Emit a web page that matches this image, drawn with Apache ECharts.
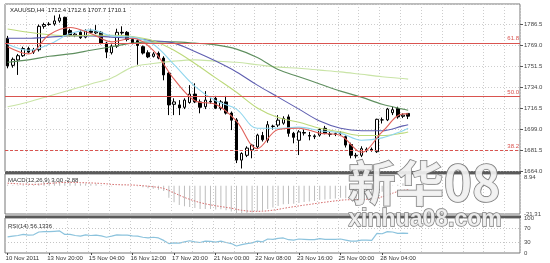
<!DOCTYPE html>
<html><head><meta charset="utf-8">
<script src="https://cdn.jsdelivr.net/npm/echarts@6/dist/echarts.min.js"></script>
<style>html,body{margin:0;padding:0;background:#fff}#c{width:550px;height:263px}</style>
</head><body><div id="c"></div>
<script>
const times = ['10 Nov 16:00','10 Nov 20:00','11 Nov 00:00','11 Nov 04:00','11 Nov 08:00','11 Nov 12:00','11 Nov 16:00','11 Nov 20:00',
'13 Nov 20:00','14 Nov 00:00','14 Nov 04:00','14 Nov 08:00','14 Nov 12:00','14 Nov 16:00','14 Nov 20:00','15 Nov 00:00',
'15 Nov 04:00','15 Nov 08:00','15 Nov 12:00','15 Nov 16:00','15 Nov 20:00','16 Nov 00:00','16 Nov 04:00','16 Nov 08:00',
'16 Nov 12:00','16 Nov 16:00','16 Nov 20:00','17 Nov 00:00','17 Nov 04:00','17 Nov 08:00','17 Nov 12:00','17 Nov 16:00',
'17 Nov 20:00','18 Nov 00:00','18 Nov 04:00','18 Nov 08:00','18 Nov 12:00','18 Nov 16:00','18 Nov 20:00','20 Nov 20:00',
'21 Nov 00:00','21 Nov 04:00','21 Nov 08:00','21 Nov 12:00','21 Nov 16:00','21 Nov 20:00','22 Nov 00:00','22 Nov 04:00',
'22 Nov 08:00','22 Nov 12:00','22 Nov 16:00','22 Nov 20:00','23 Nov 00:00','23 Nov 04:00','23 Nov 08:00','23 Nov 12:00',
'23 Nov 16:00','23 Nov 20:00','24 Nov 00:00','24 Nov 04:00','24 Nov 08:00','24 Nov 12:00','24 Nov 16:00','24 Nov 20:00',
'25 Nov 00:00','25 Nov 04:00','25 Nov 08:00','25 Nov 12:00','25 Nov 16:00','25 Nov 20:00','27 Nov 20:00','28 Nov 00:00',
'28 Nov 04:00','28 Nov 08:00','28 Nov 12:00','28 Nov 16:00','28 Nov 20:00','29 Nov 00:00'];
const openP = [1775,1752.5,1757,1760.5,1766.5,1763.5,1765.5,1785,1786.5,1787,
1789.5,1792.5,1781.5,1777.5,1780,1776,1781,1779.5,1780,1771,
1763,1768.5,1780,1780,1774,1773,1768,1763,1760,1762.5,
1758.5,1746,1720,1719.5,1717.5,1721.5,1728.5,1722,1718,1722.5,
1725,1716.7,1722,1712.7,1707,1673.5,1677.5,1682,1684.5,1694,
1690,1701.5,1702.7,1704.3,1709.5,1695.8,1690,1696.5,1694,1693,
1694.3,1700,1695,1695,1695.5,1693,1686.5,1677,1677.5,1682,
1682.5,1680.5,1707,1707,1713,1716.5,1710,1712.4];
const highP = [1777,1759,1762,1768,1768,1767,1786.5,1788,1788.5,1794,
1795,1793,1783,1780,1782,1782.5,1783,1786,1781,1772,
1770,1783,1785,1781,1775,1774,1769,1765,1763.5,1764,
1760,1747,1725,1723.5,1725,1736,1737.5,1724,1731,1725,
1727,1723.5,1727,1714,1708.5,1680,1685,1687,1695.5,1697,
1706,1703,1711,1710,1711.5,1697,1698.5,1699,1697,1695,
1700,1702,1697,1696.5,1697.5,1694,1688,1679.5,1685,1684,
1684,1708,1709,1717,1718,1718,1712.5,1712.6];
const lowP = [1750,1750.5,1744.5,1759.5,1762.5,1762,1764,1783,1785.5,1785.5,
1788,1776.5,1776.5,1776,1774.5,1775,1779,1778.5,1770,1758.5,
1761.5,1767,1778,1772.5,1770,1753,1761.5,1758.5,1759,1757.5,
1740,1711,1711,1711,1716,1720.5,1721,1712.5,1716,1720.5,
1716,1715,1711.5,1698.5,1671,1666.5,1676,1675,1683,1689,
1688,1699,1701,1703,1693,1687.5,1677.7,1694,1690,1691,
1693,1695,1693,1693.5,1693.5,1684,1675,1675,1676,1680,
1680.5,1679.5,1704,1706,1711,1708,1708.5,1707.7];
const closeP = [1752,1757.5,1760.5,1766.5,1763.5,1765.5,1785,1786.5,1786.8,1789.5,
1792,1777.5,1777.5,1778.5,1775.5,1781.5,1780,1780.5,1771,1763.5,
1768.5,1780,1779.5,1774,1771,1769,1762.7,1759.5,1762,1758.5,
1744.5,1719.5,1722,1717,1723.5,1728.5,1722,1717.5,1723.5,1722,
1716.7,1722,1712.7,1706.8,1673.5,1679,1683.5,1686,1694.3,1690.5,
1703,1701.8,1706.8,1708.2,1695.8,1692.5,1697,1696,1693.5,1693.7,
1699,1695.8,1695.2,1695.5,1696,1686,1677.5,1677.5,1683,1682.5,
1681.5,1707.5,1707,1716,1715.5,1709.5,1711,1710.1];

// moving-average lines at these bar indices
const maIdx = [0,4,8,12,16,20,24,28,32,36,40,44,48,52,56,60,64,68,72,76,77];
const maRed = [1768,1762,1778,1784,1779,1772,1775,1765,1741,1723,1720,1706,1683,1699,1700,1696,1694,1680,1697,1712,1712];
const maCyan = [1770,1765,1770,1779,1782,1777,1776,1770,1753,1735,1723,1716,1700,1700,1701,1698,1696,1690,1692,1698,1700];
const maYellowGreen = [1782.7,1780,1778,1777,1777.5,1777.5,1776.5,1773,1765,1754,1742,1730,1717,1709,1705,1700,1697,1694,1694,1696,1697];
const maPurple = [1775,1775,1776,1777,1777,1776,1775,1773,1771,1764,1756,1747,1736,1726,1716,1706,1700,1698,1698,1702,1703];
const maDarkGreen = [1755,1757,1760,1762,1765,1768,1771,1772,1772,1771,1769.5,1766,1759,1749,1743,1737,1731,1726,1720,1716,1715];
const maPaleGreen = [1718,1722,1727,1732,1737,1742,1751,1754,1756,1757,1756,1755,1753,1751,1750,1748.5,1747,1745,1743,1741.5,1741];

const macdHist = [0.8,0.5,0.4,0.7,0.8,0.9,1.8,2.5,3.0,3.4,
3.8,3.2,2.7,2.3,1.8,1.8,1.6,1.5,0.9,-0.1,
-0.4,0.1,0.4,0.3,0.0,-0.4,-1.1,-1.9,-2.3,-3.0,
-3.9,-9.0,-12.5,-14.5,-15.5,-16.0,-16.8,-17.5,-17.5,-17.6,
-18.0,-17.8,-18.5,-19.5,-21.31,-21.2,-20.8,-20.2,-19.3,-18.8,
-17.5,-16.4,-15.2,-13.9,-13.7,-13.6,-12.9,-12.3,-11.9,-11.5,
-10.7,-10.3,-9.9,-9.5,-9.1,-9.4,-10.0,-10.2,-9.8,-9.5,
-9.2,-6.4,-4.4,-2.0,-0.2,0.9,2.0,3.0];
const macdSignal = [2.0,1.8,1.5,1.3,1.2,1.1,1.2,1.5,1.8,2.1,
2.4,2.6,2.6,2.6,2.4,2.3,2.2,2.0,1.8,1.5,
1.1,0.9,0.8,0.7,0.6,0.4,0.1,-0.3,-0.7,-1.2,
-2.0,-3.5,-5.3,-7.1,-8.8,-10.2,-11.5,-12.7,-13.6,-14.4,
-15.1,-15.7,-16.3,-16.9,-17.8,-18.5,-19.0,-19.3,-19.3,-19.2,
-18.9,-18.4,-17.8,-17.1,-16.4,-15.8,-15.2,-14.6,-14.1,-13.5,
-12.9,-12.4,-11.9,-11.4,-10.9,-10.6,-10.5,-10.4,-10.3,-10.2,
-10.0,-9.3,-8.3,-7.0,-5.6,-4.3,-3.5,-2.88];
const rsi = [46,48,50,53,51,52,60,61,61,62,
63,53,53,50,48,52,50,51,49,45,
48,52,51,51,49,48,45,43,45,43,
36,27,29,28,32,35,32,30,34,33,
31,34,30,27,20,24,27,29,34,32,
40,39,42,43,38,37,40,39,38,38,
41,39,39,39,40,37,34,34,37,37,
36,56,55,61,60,56,57,56.13];

const tickLabels = ['10 Nov 2011','13 Nov 20:00','15 Nov 04:00','16 Nov 12:00','17 Nov 20:00','21 Nov 00:00','22 Nov 08:00','23 Nov 16:00','25 Nov 00:00','28 Nov 04:00'];
const fibLevels = [1771.3, 1726.3, 1681.8];
const fibNames = ['61.8','50.0','38.2'];
const rsiLevels = [70, 30];
const rsiLabels = [0, 30, 70, 100];
const macdMax = 8.94, macdMin = -21.31;
const titleText = 'XAUUSD,H4  1712.4 1712.6 1707.7 1710.1';
const macdText = 'MACD(12,26,9) 3.00 -2.88';
const rsiText = 'RSI(14) 56.1336';
const lastPrice = closeP[closeP.length - 1];

const EMPTY_SLOTS = 21;
const cats = times.concat(new Array(EMPTY_SLOTS).fill(''));
const FONT = 'Liberation Sans, Arial, sans-serif';
const gridLine = {color:'#cdcdcd', type:[1,2], width:1};

function xAx(gi, labels) {
  const tickFn = (i) => i % 8 === 0 && i / 8 < tickLabels.length;
  return {
    type:'category', gridIndex:gi, data:cats, boundaryGap:true,
    axisLine:{show:false},
    axisTick: labels ? {show:true, interval:tickFn, alignWithLabel:true, length:2, lineStyle:{color:'#444'}} : {show:false},
    axisLabel: labels ? {show:true, interval:tickFn, formatter:(v,i)=>tickLabels[i/8], align:'left',
      fontSize:6, color:'#333', margin:2, fontFamily:FONT, padding:[0,0,0,-2]} : {show:false},
    splitLine:{show:true, interval:(i)=> i>0 && i%4===0, lineStyle:gridLine}
  };
}
function maSeries(vals, color) {
  return {type:'line', xAxisIndex:0, yAxisIndex:0, data: maIdx.map((ix,k)=>[ix, vals[k]]),
    symbol:'none', smooth:0.35, lineStyle:{color:color, width:1.1}, silent:true, animation:false};
}
const yLabel = {fontSize:6, color:'#444', margin:4, fontFamily:FONT};

const chart = echarts.init(document.getElementById('c'), null, {renderer:'canvas'});
chart.setOption({
  animation:false,
  backgroundColor:'#ffffff',
  grid:[
    {left:5, right:30, top:4, height:167.5, show:true, borderColor:'#777', borderWidth:1},
    {left:5, right:30, top:174, height:40, show:true, borderColor:'#777', borderWidth:1},
    {left:5, right:30, top:218, height:35, show:true, borderColor:'#777', borderWidth:1}
  ],
  xAxis:[xAx(0,false), xAx(1,false), xAx(2,true)],
  yAxis:[
    {type:'value', gridIndex:0, position:'right', min:1664, max:1803.6, interval:17.5,
      axisLine:{show:false}, axisTick:{show:true, length:3, lineStyle:{color:'#555'}},
      axisLabel:Object.assign({showMaxLabel:false, formatter:(v)=>v.toFixed(1)}, yLabel),
      splitLine:{show:true, lineStyle:gridLine}},
    {type:'value', gridIndex:1, position:'right', min:macdMin, max:macdMax, interval:-macdMin,
      axisLine:{show:false}, axisTick:{show:false},
      axisLabel:Object.assign({showMaxLabel:true, showMinLabel:true,
        formatter:(v)=> v > 1 ? '{t|' + v.toFixed(2) + '}' : (Math.abs(v) < 0.01 ? '{z|0.00}' : v.toFixed(2)),
        rich:{t:{fontSize:6, color:'#444', fontFamily:FONT, padding:[7,0,0,0]},
              z:{fontSize:6, color:'#444', fontFamily:FONT, padding:[0,0,9,0]}}}, yLabel),
      splitLine:{show:false}},
    {type:'value', gridIndex:2, position:'right', min:0, max:100, interval:10,
      axisLine:{show:false}, axisTick:{show:false},
      axisLabel:Object.assign({formatter:(v)=> rsiLabels.indexOf(Math.round(v))>=0 ? String(Math.round(v)) : ''}, yLabel),
      splitLine:{show:false}}
  ],
  series:[
    {type:'candlestick', xAxisIndex:0, yAxisIndex:0, barWidth:3,
      data: times.map((t,i)=>[openP[i], closeP[i], lowP[i], highP[i]]),
      itemStyle:{color:'#ffffff', color0:'#000000', borderColor:'#000000', borderColor0:'#000000', borderWidth:1},
      markLine:{symbol:'none', silent:true, animation:false,
        data: fibLevels.map((v,k)=>({yAxis:v,
            lineStyle:{color:'#d9534f', width:1, type: k===2 ? [3,2] : 'solid'},
            label:{show:true, position:'insideEndTop', formatter:fibNames[k], color:'#d9534f', fontSize:6, distance:1, fontFamily:FONT}}))
          .concat([{yAxis:lastPrice, lineStyle:{opacity:0},
            label:{show:true, position:'end', formatter:lastPrice.toFixed(1), backgroundColor:'#000', color:'#fff',
              fontSize:6, padding:[1,2,1,2], distance:1, fontFamily:FONT}}])
      }},
    maSeries(maPaleGreen, '#c9e4a6'),
    maSeries(maDarkGreen, '#5f8f5f'),
    maSeries(maPurple, '#5e5eb0'),
    maSeries(maYellowGreen, '#bcd97a'),
    maSeries(maCyan, '#8fd6ee'),
    maSeries(maRed, '#e0605a'),
    {type:'bar', xAxisIndex:1, yAxisIndex:1, data:macdHist, barWidth:1, itemStyle:{color:'#bdbdbd'}, silent:true},
    {type:'line', xAxisIndex:1, yAxisIndex:1, data:macdSignal, symbol:'none', smooth:0.3,
      lineStyle:{color:'#d46a6a', width:1, type:[1.5,1.5]}, silent:true},
    {type:'line', xAxisIndex:2, yAxisIndex:2, data:rsi, symbol:'none',
      lineStyle:{color:'#8cc3dd', width:1.2}, silent:true,
      markLine:{symbol:'none', silent:true, label:{show:false},
        data: rsiLevels.map(v=>({yAxis:v, lineStyle:{color:'#c4c4c4', type:[1,2], width:1}}))}}
  ],
  graphic:[
    {type:'rect', shape:{x:5, y:171.5, width:516, height:2.5}, style:{fill:'#5a5a5a'}, z:50},
    {type:'rect', shape:{x:5, y:215.5, width:516, height:2.5}, style:{fill:'#5a5a5a'}, z:50},
    {type:'text', x:10, y:10.5, z:50, style:{text:titleText, fontSize:6, fontFamily:FONT, fill:'#222', verticalAlign:'middle'}},
    {type:'text', x:8, y:180.5, z:50, style:{text:macdText, fontSize:6, fontFamily:FONT, fill:'#333', verticalAlign:'middle'}},
    {type:'text', x:8, y:226, z:50, style:{text:rsiText, fontSize:6, fontFamily:FONT, fill:'#333', verticalAlign:'middle'}},
    {type:'text', x:424, y:183, z:100, style:{text:'新华08', fontSize:48, fontWeight:'bold', fontFamily:'Noto Sans CJK SC',
      fill:'#f1f1f1', stroke:'#6f6f6f', lineWidth:1.5, align:'center', verticalAlign:'middle', opacity:0.92,
      shadowColor:'rgba(0,0,0,0.35)', shadowBlur:2, shadowOffsetX:1, shadowOffsetY:1}},
    {type:'text', x:425, y:220, z:100, style:{text:'xinhua08.com', fontSize:23, fontWeight:'bold', fontFamily:'Liberation Sans',
      fill:'#f1f1f1', stroke:'#6f6f6f', lineWidth:1.3, align:'center', verticalAlign:'middle', opacity:0.92,
      shadowColor:'rgba(0,0,0,0.35)', shadowBlur:2, shadowOffsetX:1, shadowOffsetY:1}}
  ]
});
</script></body></html>
